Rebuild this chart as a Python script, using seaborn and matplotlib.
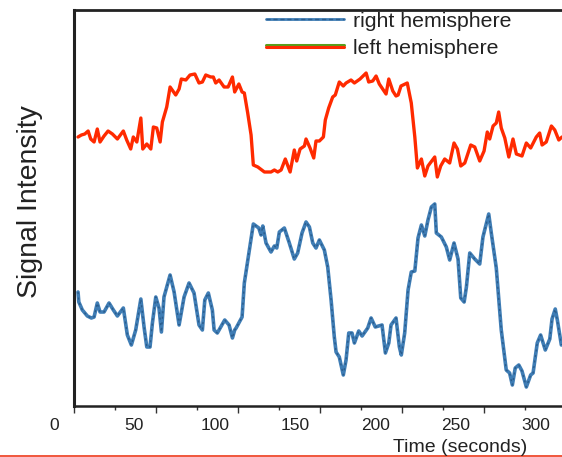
import numpy as np
import pandas as pd
import matplotlib
matplotlib.use("Agg")
import matplotlib.pyplot as plt
from matplotlib.lines import Line2D
from matplotlib.legend_handler import HandlerTuple
import matplotlib.patheffects as pe
import seaborn as sns

# Time axis (seconds) and signal traces (arbitrary units)
left_time = [14.9, 17.0, 19.1, 21.2, 22.8, 24.9, 26.9, 28.6, 31.1, 33.6, 36.3, 39.4,
             43.1, 45.2, 47.7, 49.3, 51.5, 54.0, 55.2, 57.7, 60.2, 61.8, 63.9, 66.0,
             67.4, 70.1, 72.2, 75.7, 77.8, 79.2, 82.0, 84.6, 87.6, 90.2, 92.3, 94.4,
             97.5, 99.1, 100.6, 102.7, 105.8, 108.3, 111.0, 112.4, 115.0, 117.0, 118.4,
             120.5, 122.6, 124.0, 126.8, 130.9, 135.0, 137.1, 139.2, 141.3, 143.9,
             146.9, 149.5, 151.0, 153.1, 155.8, 156.8, 159.3, 161.6, 163.0, 165.1,
             167.6, 168.8, 170.9, 173.4, 175.0, 177.5, 180.0, 181.7, 184.8, 186.9,
             190.4, 194.2, 195.8, 198.3, 200.4, 202.4, 206.6, 208.3, 210.8, 212.8,
             214.1, 215.9, 219.8, 222.3, 224.5, 226.1, 228.6, 230.7, 232.7, 236.9,
             238.5, 240.6, 243.1, 246.2, 248.9, 251.0, 253.1, 255.6, 259.3, 261.8,
             264.9, 267.6, 269.6, 271.1, 273.2, 275.2, 276.7, 278.3, 280.5, 283.0,
             285.6, 287.7, 291.2, 293.9, 296.6, 300.1, 302.2, 303.7, 306.3, 309.5,
             311.6, 314.1, 316.1]
left_signal = [269, 271, 272, 275, 267, 264, 277, 264, 270, 275, 272, 267,
               275, 266, 257, 269, 264, 288, 257, 262, 257, 279, 278, 264,
               284, 299, 319, 311, 317, 327, 326, 331, 332, 323, 324, 331,
               329, 329, 323, 326, 319, 319, 329, 314, 322, 314, 313,
               293, 271, 241, 239, 234, 234, 236, 234, 236, 247,
               234, 256, 245, 257, 260, 267, 258, 248, 265, 265,
               269, 286, 298, 309, 311, 324, 320, 323, 326, 323,
               327, 333, 324, 325, 330, 322, 312, 327, 315, 310,
               311, 320, 323, 303, 269, 238, 247, 230, 240, 249,
               229, 240, 247, 243, 263, 257, 240, 243, 261, 259,
               245, 255, 274, 267, 280, 283, 294, 278, 268, 249,
               267, 252, 250, 263, 258, 269, 273, 261, 264, 280,
               276, 266, 269]

right_time = [14.9, 15.4, 17.6, 20.7, 23.2, 24.9, 26.9, 28.6, 31.1, 34.2, 36.9, 39.4,
              43.1, 45.6, 48.1, 50.8, 54.0, 56.0, 57.7, 59.7, 61.2, 63.3, 65.3, 66.8,
              68.4, 72.2, 74.7, 77.8, 80.9, 84.0, 87.1, 90.2, 92.3, 93.8, 96.0, 98.5,
              99.6, 101.6, 106.2, 108.9, 111.0, 112.4, 113.3, 117.0, 118.4, 121.5,
              124.0, 127.4, 128.8, 129.9, 131.9, 135.0, 137.1, 138.6, 140.2, 143.3,
              146.4, 149.5, 151.6, 154.3, 156.8, 158.9, 161.0, 163.0, 165.1, 168.2,
              170.3, 172.4, 174.4, 175.5, 177.5, 180.0, 181.7, 183.4, 185.4, 186.9,
              189.6, 191.7, 195.2, 197.3, 199.9, 204.1, 206.2, 208.3, 209.7, 212.8,
              214.9, 216.1, 218.2, 220.3, 222.3, 224.5, 226.5, 228.6, 230.7, 232.7,
              234.8, 236.9, 237.9, 241.0, 244.1, 246.2, 248.9, 251.4, 253.1, 255.2,
              256.6, 258.7, 261.8, 264.9, 266.9, 270.5, 272.1, 275.2, 278.3, 281.4,
              283.5, 285.2, 287.0, 289.2, 291.2, 293.9, 296.6, 298.1, 300.7, 302.8,
              305.7, 308.5, 309.9, 311.9, 313.2, 315.7]
right_signal = [114, 104, 96, 90, 88, 89, 103, 94, 94, 103, 96, 90,
                98, 71, 61, 76, 107, 79, 59, 59, 83, 109, 98, 74,
                109, 131, 114, 81, 109, 123, 113, 81, 76, 106, 113, 96,
                76, 73, 86, 81, 68, 76, 78, 89, 123, 156,
                182, 178, 171, 180, 163, 154, 160, 158, 174, 178,
                163, 147, 153, 173, 184, 179, 163, 158, 166, 156,
                139, 106, 69, 54, 49, 31, 46, 73, 73, 63,
                75, 70, 78, 88, 79, 81, 53, 63, 81, 88,
                59, 51, 73, 116, 134, 135, 168, 181, 170, 186,
                199, 202, 173, 169, 159, 146, 163, 147, 108, 104,
                119, 153, 147, 142, 169, 192, 173, 138, 76, 36,
                33, 21, 38, 41, 35, 19, 31, 33, 63, 71,
                56, 67, 87, 97, 86, 61]

x_labels = [0, 50, 100, 150, 200, 250, 300]

left_df = pd.DataFrame({"time": left_time, "signal": left_signal})
right_df = pd.DataFrame({"time": right_time, "signal": right_signal})

sns.set_style("white")
plt.rcParams["font.family"] = ["Liberation Sans", "DejaVu Sans"]

fig = plt.figure(figsize=(5.62, 4.57), dpi=100)
ax = fig.add_axes([74 / 562, 51 / 457, 488 / 562, 396 / 457])

red = "#ff2a00"
blue = "#3f7db5"
dark_blue = "#2a5c8c"

sns.lineplot(data=left_df, x="time", y="signal", ax=ax, color=red, lw=2.4,
             estimator=None, sort=False)
sns.lineplot(data=right_df, x="time", y="signal", ax=ax, color=blue, lw=2.6,
             estimator=None, sort=False)
sns.lineplot(data=right_df, x="time", y="signal", ax=ax, color=dark_blue, lw=1.0,
             linestyle=(0, (1.5, 2.5)), estimator=None, sort=False)

ax.set_xlim(12.4, 316.1)
ax.set_ylim(0, 396)
ax.set_yticks([])
ax.set_xticks(np.arange(12.4, 316, 51.0))
ax.set_xticks(np.arange(37.9, 316, 51.0), minor=True)
ax.set_xticklabels([])
ax.tick_params(axis="x", which="major", direction="out", length=5, width=1,
               color="#333333", bottom=True)
ax.tick_params(axis="x", which="minor", direction="out", length=3, width=1,
               color="#333333", bottom=True)
ax.set_xlabel("")
ax.set_ylabel("")

for side in ["left", "top", "bottom"]:
    ax.spines[side].set_color("#222222")
ax.spines["left"].set_linewidth(2.2)
ax.spines["top"].set_linewidth(2.0)
ax.spines["bottom"].set_linewidth(1.8)
ax.spines["right"].set_visible(False)

# tick labels sit on their own grid, offset from the tick marks
for v in x_labels:
    ax.text(v, -0.05, str(v), transform=ax.get_xaxis_transform(), ha="center",
            va="center", fontsize=12.5, color="#222222", clip_on=False)

fig.text(460 / 562, 1 - 448 / 457, "Time (seconds)", ha="center", va="center",
         fontsize=14, color="#222222")
fig.text(30 / 562, 1 - 202 / 457, "Signal Intensity", ha="center", va="center",
         rotation=90, fontsize=20.5, color="#222222")

blue_handle = (Line2D([], [], color=blue, lw=2.0),
               Line2D([], [], color=dark_blue, lw=1.0, linestyle=(0, (3, 2))))
red_handle = Line2D([], [], color=red, lw=2.2,
                    path_effects=[pe.SimpleLineShadow(offset=(0, 1.2),
                                                      shadow_color="#5a9e1a",
                                                      alpha=1.0), pe.Normal()])
ax.legend([blue_handle, red_handle], ["right hemisphere", "left hemisphere"],
          handler_map={tuple: HandlerTuple(ndivide=1, pad=0)},
          frameon=False, loc="upper left", bbox_to_anchor=(255 / 562, 1 - 1 / 457),
          bbox_transform=fig.transFigure, fontsize=15.3, handlelength=3.67,
          handletextpad=0.42, labelspacing=0.4, borderpad=0,
          labelcolor="#222222")

# thin red rule across the bottom of the figure
fig.add_artist(Line2D([0, 1], [1 - 456 / 457, 1 - 456 / 457],
                      transform=fig.transFigure, color="#ee3a1a", lw=1.2))

fig.savefig("out.png", dpi=100)
